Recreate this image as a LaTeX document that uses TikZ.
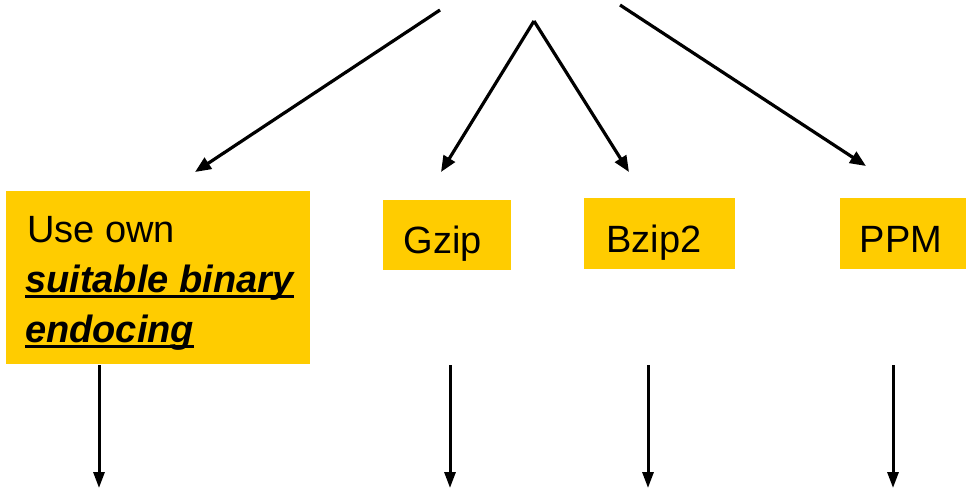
\documentclass[tikz,border=0pt]{standalone}
\usepackage{fontspec}
\setmainfont{Liberation Sans}
\usetikzlibrary{arrows.meta}
\definecolor{boxyellow}{RGB}{255,204,0}
\tikzset{
  ybox/.style={fill=boxyellow, draw=none, inner sep=0pt},
  lbl/.style={font=\fontsize{38}{50}\selectfont, inner sep=0pt, text=black},
  arr/.style={line width=3.2pt, -{Triangle[length=16pt,width=13pt]}},
  varr/.style={line width=3pt, -{Triangle[length=16pt,width=11pt]}},
  uline/.style={line width=2.4pt}
}
\begin{document}
\begin{tikzpicture}[x=1pt,y=-1pt]
\useasboundingbox (0,0) rectangle (973,491);
% boxes
\node[ybox, anchor=north west, minimum width=304pt, minimum height=173pt] (own) at (6,191) {};
\node[ybox, anchor=north west, minimum width=128pt, minimum height=70pt] (gzip) at (383,200) {};
\node[ybox, anchor=north west, minimum width=151pt, minimum height=71pt] (bzip) at (584,198) {};
\node[ybox, anchor=north west, minimum width=126pt, minimum height=71pt] (ppm) at (840,198) {};
% texts
\node[lbl, anchor=base west] (t1) at (27,242) {Use own};
\node[lbl, anchor=base west] (t2) at (25,292) {\bfseries\itshape suitable binary};
\node[lbl, anchor=base west] (t3) at (25,342) {\bfseries\itshape endocing};
\draw[uline] ([yshift=-4.5pt]t2.base west) -- ([yshift=-4.5pt]t2.base east);
\draw[uline] ([yshift=-4.5pt]t3.base west) -- ([yshift=-4.5pt]t3.base east);
\node[lbl, anchor=base] (tg) at (443,253) {Gzip};
\node[lbl, anchor=base] (tb) at (654,252) {Bzip2};
\node[lbl, anchor=base] (tp) at (901,252) {PPM};
% top arrows
\coordinate (s1) at (440,10);
\coordinate (e1) at (195,172);
\coordinate (apex) at (534,21);
\coordinate (e2) at (441,172);
\coordinate (e3) at (629,172);
\coordinate (s4) at (620,5);
\coordinate (e4) at (866,166);
\draw[arr] (s1) -- (e1);
\draw[arr] (apex) -- (e2);
\draw[arr] (apex) -- (e3);
\draw[arr] (s4) -- (e4);
% bottom arrows
\foreach \x/\n in {99/a,450/b,648/c,893/d}{
  \coordinate (v\n1) at (\x,365);
  \coordinate (v\n2) at (\x,488);
  \draw[varr] (v\n1) -- (v\n2);
}
\end{tikzpicture}
\end{document}
